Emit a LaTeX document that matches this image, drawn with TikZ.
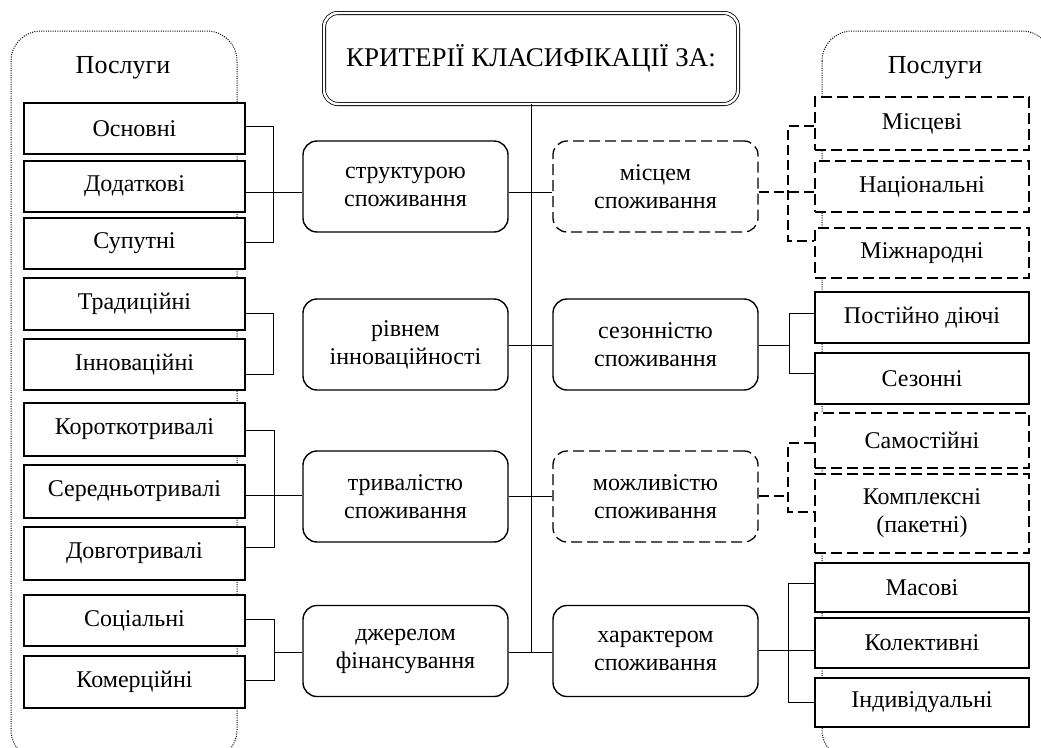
\documentclass[tikz,border=0pt]{standalone}
\usepackage{fontspec}
\setmainfont{Liberation Serif}
\begin{document}
\begin{tikzpicture}[x=1pt,y=-1pt,
  font=\fontsize{24}{28}\selectfont,
  box/.style={draw, line width=1.4pt, fill=white, inner sep=0pt, align=center},
  lbox/.style={box, minimum width=221pt, minimum height=#1},
  rbox/.style={box, minimum width=214pt, minimum height=#1},
  rdbox/.style={rbox=#1, line width=1.3pt, dash pattern=on 11pt off 5pt},
  mbox/.style={box, rounded corners=14pt, minimum width=205pt, minimum height=91pt},
  mdbox/.style={mbox, line width=1.3pt, dash pattern=on 11pt off 5pt},
  conn/.style={line width=1pt},
  dconn/.style={line width=1.2pt, dash pattern=on 10pt off 5pt},
  panel/.style={line width=1pt, dash pattern=on 1pt off 1.3pt, rounded corners=30pt}
]
\useasboundingbox (0,0) rectangle (1041,747);
\clip (0,0) rectangle (1041,747);
\fill[white] (0,0) rectangle (1041,747);

% dotted panels
\draw[panel] (11,31) rectangle (237,760);
\draw[panel] (822,31) rectangle (1052,760);
\node[font=\fontsize{26}{30}\selectfont] (lp) at (123,68) {Послуги};
\node[font=\fontsize{26}{30}\selectfont] (rp) at (935,68) {Послуги};

% title
\node[draw, line width=0.8pt, double, double distance=2.4pt, rounded corners=14pt,
      minimum width=414pt, minimum height=91pt, inner sep=0pt, fill=white,
      font=\fontsize{27}{32}\selectfont]
      (title) at (531,58.5) {КРИТЕРІЇ КЛАСИФІКАЦІЇ ЗА:};

% left boxes
\node[lbox=51pt] (osn)  at (134.5,128.5) {Основні};
\node[lbox=51pt] (dod)  at (134.5,186.5) {Додаткові};
\node[lbox=51pt] (sup)  at (134.5,243.5) {Супутні};
\node[lbox=52pt] (trad) at (134.5,304)   {Традиційні};
\node[lbox=51pt] (inn)  at (134.5,364.5) {Інноваційні};
\node[lbox=53pt] (kor)  at (134.5,429.5) {Короткотривалі};
\node[lbox=53pt] (ser)  at (134.5,491.5) {Середньотривалі};
\node[lbox=53pt] (dov)  at (134.5,553.5) {Довготривалі};
\node[lbox=51pt] (soc)  at (134.5,620.5) {Соціальні};
\node[lbox=52pt] (kom)  at (134.5,682)   {Комерційні};

% middle boxes
\node[mbox]  (struct) at (405.5,186.5) {структурою\\споживання};
\node[mbox]  (riv)    at (405.5,344.5) {рівнем\\інноваційності};
\node[mbox]  (tryv)   at (405.5,496.5) {тривалістю\\споживання};
\node[mbox]  (dzh)    at (405.5,651)   {джерелом\\фінансування};
\node[mdbox] (misc)   at (655.5,186.5) {місцем\\споживання};
\node[mbox]  (sez)    at (655.5,344.5) {сезонністю\\споживання};
\node[mdbox] (mozh)   at (655.5,496.5) {можливістю\\споживання};
\node[mbox]  (khar)   at (655.5,651)   {характером\\споживання};

% right boxes
\node[rdbox=53pt] (mis)   at (922,123.5) {Місцеві};
\node[rdbox=51pt] (nac)   at (922,186.5) {Національні};
\node[rdbox=50pt] (mizh)  at (922,253)   {Міжнародні};
\node[rbox=51pt]  (post)  at (922,317.5) {Постійно діючі};
\node[rbox=51pt]  (sezn)  at (922,378.5) {Сезонні};
\node[rdbox=55pt] (samo)  at (922,440.5) {Самостійні};
\node[rdbox=79pt] (kompl) at (922,513.5) {Комплексні\\(пакетні)};
\node[rbox=49pt]  (mas)   at (922,587.5) {Масові};
\node[rbox=50pt]  (kol)   at (922,643)   {Колективні};
\node[rbox=49pt]  (ind)   at (922,702.5) {Індивідуальні};

% central trunk
\coordinate (trunkend) at (531,652);
\draw[conn] (title.south) -- (trunkend);

% level 1
\draw[conn] (osn.east |- 0,126) -| (273,242) -- (sup.east |- 0,242);
\draw[conn] (dod.east |- 0,192) -- (struct.west |- 0,192);
\draw[conn] (struct.east |- 0,192) -- (misc.west |- 0,192);
\draw[dconn] (misc.east |- 0,192) -- (nac.west |- 0,192);
\draw[dconn] (mis.west |- 0,126) -| (788,241) -- (mizh.west |- 0,241);

% level 2
\draw[conn] (trad.east |- 0,313) -| (273,374) -- (inn.east |- 0,374);
\draw[conn] (riv.west |- 273,345) -- (riv.west |- 0,345);
\draw[conn] (riv.east |- 0,345) -- (sez.west |- 0,345);
\draw[conn] (sez.east |- 0,345) -- (789,345);
\draw[conn] (post.west |- 0,313) -| (789,373) -- (sezn.west |- 0,373);

% level 3
\draw[conn] (kor.east |- 0,430) -| (274,547) -- (dov.east |- 0,547);
\draw[conn] (ser.east |- 0,495) -- (tryv.west |- 0,495);
\draw[conn] (tryv.east |- 0,496) -- (mozh.west |- 0,496);
\draw[dconn] (mozh.east |- 0,496) -- (788,496);
\draw[dconn] (samo.west |- 0,443) -| (788,512) -- (kompl.west |- 0,512);

% level 4
\draw[conn] (soc.east |- 0,619) -| (274,680) -- (kom.east |- 0,680);
\draw[conn] (274,652) -- (dzh.west |- 0,652);
\draw[conn] (dzh.east |- 0,652) -- (khar.west |- 0,652);
\draw[conn] (khar.east |- 0,650) -- (kol.west |- 0,650);
\draw[conn] (mas.west |- 0,583) -| (788,702) -- (ind.west |- 0,702);
\end{tikzpicture}
\end{document}
